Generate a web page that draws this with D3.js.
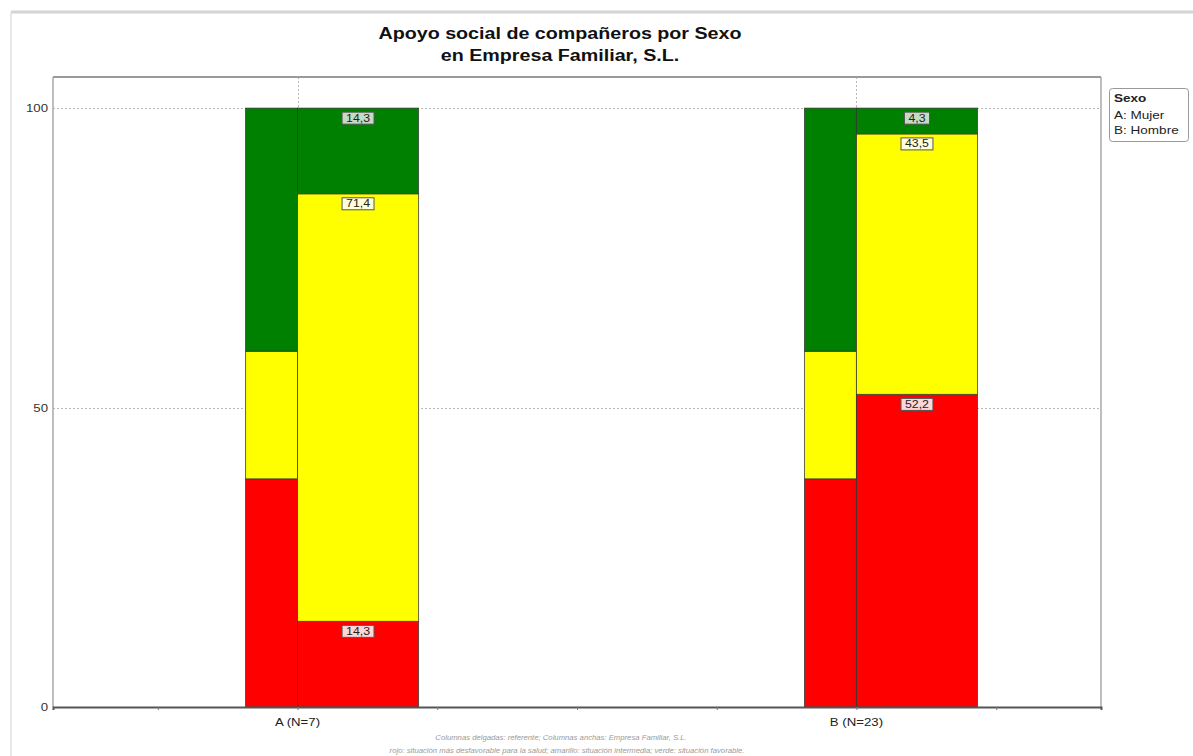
<!DOCTYPE html>
<html><head><meta charset="utf-8">
<script src="https://cdn.jsdelivr.net/npm/d3@7"></script>
<style>body{margin:0;background:#fff;} svg{display:block;font-family:"Liberation Sans",Arial,sans-serif;}</style>
</head><body><svg id="c" width="1193" height="756"></svg>
<script>
// ---- data ----
const categories = ["A (N=7)", "B (N=23)"];
const categoryPos = [1, 5];
const levels = ["rojo", "amarillo", "verde"];
const levelColors = ["#ff0000", "#ffff00", "#008000"];
const labelFills = ["#ffd6d6", "#ffffdc", "#c4dcc4"];
const referente = [38.1, 21.3, 40.6];          // thin columns (same for both groups)
const empresaRojo = [14.3, 52.2];
const empresaAmarillo = [71.4, 43.5];
const empresaVerde = [14.3, 4.3];
const yTicks = [0, 50, 100];
const yGrid = [50, 100];
const xTicks = [0, 1, 2, 3, 4, 5, 6];
const titleLines = ["Apoyo social de compañeros por Sexo", "en Empresa Familiar, S.L."];
const legendTitle = "Sexo";
const legendItems = ["A: Mujer", "B: Hombre"];
const footerLines = [
  "Columnas delgadas: referente; Columnas anchas: Empresa Familiar, S.L.",
  "rojo: situación más desfavorable para la salud; amarillo: situación intermedia; verde: situación favorable."
];

// ---- setup ----
const svg = d3.select("#c");
const L = 53, R = 1101, T = 77, B = 707;
const x = d3.scaleLinear().domain([-0.75, 6.75]).range([L, R]);
const y = d3.scaleLinear().domain([0, 105.2]).range([B, T]);
const narrowW = 0.372, wideW = 0.866;
const fmt = v => d3.format(".1f")(v).replace(".", ",");
const STRETCH = 1.23;
function stretch(sel, k) {
  sel.each(function () {
    const w = this.getComputedTextLength();
    d3.select(this).attr("textLength", w * (k || STRETCH)).attr("lengthAdjust", "spacingAndGlyphs");
  });
}

// outer page frame
svg.append("line").attr("x1", 11).attr("x2", 1193).attr("y1", 12).attr("y2", 12)
  .attr("stroke", "#d4d4d4").attr("stroke-width", 3);
svg.append("line").attr("x1", 11).attr("x2", 11).attr("y1", 12).attr("y2", 756)
  .attr("stroke", "#e0e0e0").attr("stroke-width", 1.5);

// title
svg.append("g").selectAll("text").data(titleLines).join("text")
  .attr("x", 560).attr("y", (d, i) => 39 + i * 22)
  .attr("text-anchor", "middle").attr("font-size", 16).attr("font-weight", "bold")
  .attr("fill", "#111").text(d => d).call(stretch);

// plot background
svg.append("rect").attr("x", L).attr("y", T).attr("width", R - L).attr("height", B - T).attr("fill", "#fff");

// grid
svg.append("g").selectAll("line").data(yGrid).join("line")
  .attr("x1", L).attr("x2", R).attr("y1", d => Math.round(y(d)) + 0.5).attr("y2", d => Math.round(y(d)) + 0.5)
  .attr("stroke", "#b8b8b8").attr("stroke-dasharray", "2,2");
svg.append("g").selectAll("line").data(categoryPos).join("line")
  .attr("x1", d => Math.round(x(d)) + 0.5).attr("x2", d => Math.round(x(d)) + 0.5).attr("y1", T).attr("y2", B)
  .attr("stroke", "#b8b8b8").attr("stroke-dasharray", "2,2");

// bars
function stack(vals) { let c = 0; return vals.map(v => { const s = { y0: c, y1: c + v, v }; c += v; return s; }); }
const gBars = svg.append("g");
const gLabels = svg.append("g");
categories.forEach((cat, ci) => {
  const cx = categoryPos[ci];
  const refSt = stack(referente);
  gBars.append("g").selectAll("rect").data(refSt).join("rect")
    .attr("x", x(cx - narrowW)).attr("width", x(cx) - x(cx - narrowW))
    .attr("y", d => y(d.y1)).attr("height", d => y(d.y0) - y(d.y1))
    .attr("fill", (d, i) => levelColors[i]).attr("stroke", "#333").attr("stroke-opacity", 0.75).attr("stroke-width", 1);
  const empSt = stack([empresaRojo[ci], empresaAmarillo[ci], empresaVerde[ci]]);
  gBars.append("g").selectAll("rect").data(empSt).join("rect")
    .attr("x", x(cx)).attr("width", x(cx + wideW) - x(cx))
    .attr("y", d => y(d.y1)).attr("height", d => y(d.y0) - y(d.y1))
    .attr("fill", (d, i) => levelColors[i]).attr("stroke", "#333").attr("stroke-opacity", 0.75).attr("stroke-width", 1);
  // value labels
  const lx = (x(cx) + x(cx + wideW)) / 2;
  empSt.forEach((d, i) => {
    const g = gLabels.append("g");
    const t = g.append("text").attr("x", lx).attr("y", y(d.y1) + 13.5)
      .attr("text-anchor", "middle").attr("font-size", 10).attr("fill", "#222").text(fmt(d.v));
    const tw = t.node().getComputedTextLength() * STRETCH;
    t.attr("textLength", tw).attr("lengthAdjust", "spacingAndGlyphs");
    const w = tw + 8;
    g.insert("rect", "text").attr("x", lx - w / 2).attr("y", y(d.y1) + 4).attr("width", w).attr("height", 12)
      .attr("fill", labelFills[i]).attr("stroke", "#555").attr("stroke-width", 1);
  });
});

// frame
svg.append("line").attr("x1", L).attr("x2", R).attr("y1", T).attr("y2", T).attr("stroke", "#9a9a9a").attr("stroke-width", 2);
svg.append("line").attr("x1", L).attr("x2", L).attr("y1", T).attr("y2", B).attr("stroke", "#a8a8a8").attr("stroke-width", 1.5);
svg.append("line").attr("x1", R).attr("x2", R).attr("y1", T).attr("y2", B).attr("stroke", "#a8a8a8").attr("stroke-width", 1.5);

// x axis
const xAxis = d3.axisBottom(x).tickValues(xTicks).tickSize(3).tickFormat("");
const gx = svg.append("g").attr("transform", `translate(0,${B})`).call(xAxis);
gx.select(".domain").attr("stroke", "#555").attr("stroke-width", 2);
gx.selectAll(".tick line").attr("stroke", "#777");
svg.append("g").selectAll("text").data(categories).join("text")
  .attr("x", (d, i) => x(categoryPos[i])).attr("y", 726)
  .attr("text-anchor", "middle").attr("font-size", 11).attr("fill", "#222").text(d => d).call(stretch, 1.2);

// y axis labels
const yAxis = d3.axisLeft(y).tickValues(yTicks).tickSize(0).tickPadding(5).tickFormat(d3.format("d"));
const gy = svg.append("g").attr("transform", `translate(${L},0)`).call(yAxis);
gy.select(".domain").remove();
gy.selectAll(".tick text").attr("font-size", 11).attr("fill", "#333").attr("font-family", "Liberation Sans, Arial, sans-serif").call(stretch, 1.2);

// legend
const lg = svg.append("g");
lg.append("rect").attr("x", 1109.5).attr("y", 88.5).attr("width", 79).attr("height", 53).attr("rx", 3)
  .attr("fill", "#fff").attr("stroke", "#999");
lg.append("text").attr("x", 1114).attr("y", 102).attr("font-size", 11).attr("font-weight", "bold").attr("fill", "#222").text(legendTitle).call(stretch);
lg.selectAll("text.it").data(legendItems).join("text").attr("class", "it")
  .attr("x", 1114).attr("y", (d, i) => 119 + i * 15).attr("font-size", 11).attr("fill", "#222").text(d => d).call(stretch);

// footer
svg.append("g").selectAll("text").data(footerLines).join("text")
  .attr("x", (d, i) => i === 0 ? 561 : 567).attr("y", (d, i) => 740 + i * 13)
  .attr("text-anchor", "middle").attr("font-size", 7).attr("font-style", "italic").attr("fill", "#9a9a9a").text(d => d).call(stretch, 1.1);
</script></body></html>
